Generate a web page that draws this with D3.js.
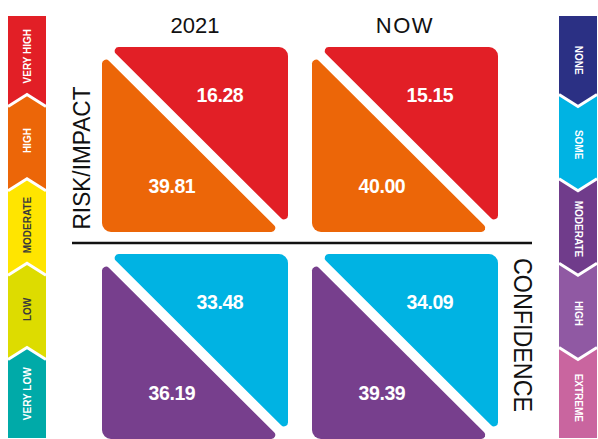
<!DOCTYPE html>
<html>
<head>
<meta charset="utf-8">
<script src="https://cdn.jsdelivr.net/npm/d3@7"></script>
<style>
  html, body { margin: 0; padding: 0; background: #fff; }
  svg { display: block; }
</style>
</head>
<body>
<svg id="chart"></svg>
<script>
// data
const periods = ['2021', 'NOW'];
const measures = ['RISK/IMPACT', 'CONFIDENCE'];
const riskUpper = [16.28, 15.15];   // very high
const riskLower = [39.81, 40.00];   // high
const confUpper = [33.48, 34.09];   // some
const confLower = [36.19, 39.39];   // moderate

const riskLevels = ['VERY HIGH', 'HIGH', 'MODERATE', 'LOW', 'VERY LOW'];
const confLevels = ['NONE', 'SOME', 'MODERATE', 'HIGH', 'EXTREME'];

// palettes
const riskColors = ['#e21f26', '#ec6608', '#ffe500', '#dddc00', '#00aaa8'];
const riskText = ['#fff', '#fff', '#3a3a3a', '#3a3a3a', '#fff'];
const confColors = ['#2b3084', '#00b3e3', '#703c8b', '#9059a3', '#c9659f'];
const cellColors = [['#e21f26', '#ec6608'], ['#00b3e3', '#773f8d']];

const W = 598, H = 439;
const svg = d3.select('#chart').attr('width', W).attr('height', H);

const x = d3.scaleBand().domain(periods).range([102, 498]).paddingInner(0.1143);
const y = d3.scaleBand().domain(measures).range([47, 439]).paddingInner(0.1063);

function roundedPath(pts, radii) {
  const p = d3.path();
  const n = pts.length;
  const a = pts[n - 1], b = pts[0];
  p.moveTo((a[0] + b[0]) / 2, (a[1] + b[1]) / 2);
  for (let i = 0; i < n; i++) {
    const cur = pts[i], next = pts[(i + 1) % n];
    p.arcTo(cur[0], cur[1], next[0], next[1], radii[i]);
  }
  p.closePath();
  return p.toString();
}

const gap = 7, rA = 4, rR = 9;
const values = [[riskUpper, riskLower], [confUpper, confLower]];

const cells = [];
measures.forEach((m, mi) => {
  periods.forEach((per, pi) => {
    cells.push({m, mi, per, pi, upper: values[mi][0][pi], lower: values[mi][1][pi]});
  });
});

const cell = svg.append('g').selectAll('g').data(cells).enter().append('g')
  .attr('transform', d => 'translate(' + x(d.per) + ',' + y(d.m) + ')');

const S = x.bandwidth(), SY = y.bandwidth();

cell.append('path')
  .attr('d', roundedPath([[gap, 0], [S, 0], [S, SY - gap]], [rA, rR, rA]))
  .attr('fill', d => cellColors[d.mi][0]);

cell.append('path')
  .attr('d', roundedPath([[0, gap], [0, SY], [S - gap, SY]], [rA, rR, rA]))
  .attr('fill', d => cellColors[d.mi][1]);

const numFont = '"Liberation Sans", Arial, sans-serif';

cell.append('text')
  .attr('x', S * 0.634).attr('y', SY * 0.26)
  .attr('dy', '0.35em')
  .attr('text-anchor', 'middle')
  .style('font-family', numFont).style('font-weight', 'bold')
  .style('font-size', '19.5px').style('letter-spacing', '-0.4px')
  .attr('fill', '#fff')
  .text(d => d.upper.toFixed(2));

cell.append('text')
  .attr('x', S * 0.376).attr('y', SY * 0.755)
  .attr('dy', '0.35em')
  .attr('text-anchor', 'middle')
  .style('font-family', numFont).style('font-weight', 'bold')
  .style('font-size', '19.5px').style('letter-spacing', '-0.4px')
  .attr('fill', '#fff')
  .text(d => d.lower.toFixed(2));

// column headers
svg.append('g').selectAll('text').data(periods).enter().append('text')
  .attr('x', d => x(d) + S * 0.5)
  .attr('y', 33)
  .attr('text-anchor', 'middle')
  .style('font-family', numFont).style('font-size', '22px')
  .style('letter-spacing', (d, i) => i === 1 ? '1.5px' : '0px')
  .attr('fill', '#111')
  .text(d => d);

// row titles
svg.append('text')
  .attr('transform', 'translate(90,' + (y('RISK/IMPACT') + 111) + ') rotate(-90)')
  .attr('text-anchor', 'middle')
  .style('font-family', numFont).style('font-size', '23px')
  .attr('textLength', 143).attr('lengthAdjust', 'spacingAndGlyphs')
  .attr('fill', '#111')
  .text('RISK/IMPACT');

svg.append('text')
  .attr('transform', 'translate(514,' + (y('CONFIDENCE') + 81) + ') rotate(90)')
  .attr('text-anchor', 'middle')
  .style('font-family', numFont).style('font-size', '25px')
  .attr('textLength', 154).attr('lengthAdjust', 'spacingAndGlyphs')
  .attr('fill', '#111')
  .text('CONFIDENCE');

// divider
svg.append('line')
  .attr('x1', 72).attr('x2', 532).attr('y1', 243).attr('y2', 243)
  .attr('stroke', '#111').attr('stroke-width', 2.5);

// side legends
const ly = d3.scaleLinear().domain([0, 5]).range([16, 438]);
const chev = 6;

function legend(levels, colors, textColors, x0, x1, dir, rot) {
  const cx = (x0 + x1) / 2;
  const g = svg.append('g');
  levels.forEach((lev, i) => {
    const t = ly(i), b = ly(i + 1);
    const pts = [];
    if (i === 0) { pts.push([x0, t], [x1, t]); }
    else { pts.push([x0, t + dir * chev], [cx, t - dir * chev], [x1, t + dir * chev]); }
    if (i === levels.length - 1) { pts.push([x1, b], [x0, b]); }
    else { pts.push([x1, b + dir * chev], [cx, b - dir * chev], [x0, b + dir * chev]); }
    g.append('polygon').attr('points', pts.map(p => p.join(',')).join(' ')).attr('fill', colors[i]);
  });
  // white chevron gaps
  d3.range(1, levels.length).forEach(i => {
    const t = ly(i);
    g.append('polyline')
      .attr('points', [[x0, t + dir * chev], [cx, t - dir * chev], [x1, t + dir * chev]].map(p => p.join(',')).join(' '))
      .attr('fill', 'none').attr('stroke', '#fff').attr('stroke-width', 3);
  });
  g.selectAll('text').data(levels).enter().append('text')
    .attr('transform', (d, i) => 'translate(' + (cx + (rot < 0 ? 3.5 : -3.5)) + ',' + ((ly(i) + ly(i + 1)) / 2 - dir * 2) + ') rotate(' + rot + ')')
    .attr('text-anchor', 'middle')
    .style('font-family', numFont).style('font-weight', 'bold').style('font-size', '10px')
    .attr('fill', (d, i) => textColors[i])
    .text(d => d);
}

legend(riskLevels, riskColors, riskText, 8, 46, 1, -90);
legend(confLevels, confColors, confLevels.map(() => '#fff'), 559, 597, -1, 90);
</script>
</body>
</html>
